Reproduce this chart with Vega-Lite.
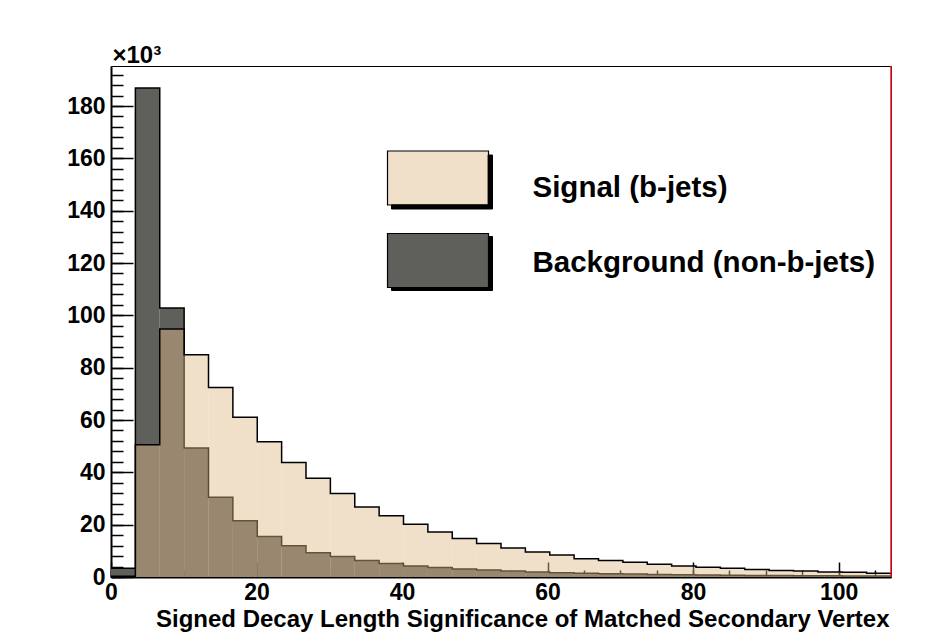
{
  "$schema": "https://vega.github.io/schema/vega-lite/v6.json",
  "width": 780,
  "height": 511,
  "padding": {"left": 111, "top": 66, "right": 47, "bottom": 60},
  "autosize": {"type": "none"},
  "background": "white",
  "data": {"values": [
    {"series": "Background (non-b-jets)", "x0": 0, "x1": 3.35, "count": 3300},
    {"series": "Background (non-b-jets)", "x0": 3.35, "x1": 6.7, "count": 186900},
    {"series": "Background (non-b-jets)", "x0": 6.7, "x1": 10.05, "count": 102800},
    {"series": "Background (non-b-jets)", "x0": 10.05, "x1": 13.4, "count": 49300},
    {"series": "Background (non-b-jets)", "x0": 13.4, "x1": 16.75, "count": 30500},
    {"series": "Background (non-b-jets)", "x0": 16.75, "x1": 20.1, "count": 21500},
    {"series": "Background (non-b-jets)", "x0": 20.1, "x1": 23.45, "count": 15500},
    {"series": "Background (non-b-jets)", "x0": 23.45, "x1": 26.8, "count": 11900},
    {"series": "Background (non-b-jets)", "x0": 26.8, "x1": 30.15, "count": 9300},
    {"series": "Background (non-b-jets)", "x0": 30.15, "x1": 33.5, "count": 7800},
    {"series": "Background (non-b-jets)", "x0": 33.5, "x1": 36.85, "count": 6300},
    {"series": "Background (non-b-jets)", "x0": 36.85, "x1": 40.2, "count": 5200},
    {"series": "Background (non-b-jets)", "x0": 40.2, "x1": 43.55, "count": 4200},
    {"series": "Background (non-b-jets)", "x0": 43.55, "x1": 46.9, "count": 3600},
    {"series": "Background (non-b-jets)", "x0": 46.9, "x1": 50.25, "count": 3100},
    {"series": "Background (non-b-jets)", "x0": 50.25, "x1": 53.6, "count": 2700},
    {"series": "Background (non-b-jets)", "x0": 53.6, "x1": 56.95, "count": 2300},
    {"series": "Background (non-b-jets)", "x0": 56.95, "x1": 60.3, "count": 1900},
    {"series": "Background (non-b-jets)", "x0": 60.3, "x1": 63.65, "count": 1600},
    {"series": "Background (non-b-jets)", "x0": 63.65, "x1": 67, "count": 1400},
    {"series": "Background (non-b-jets)", "x0": 67, "x1": 70.35, "count": 1200},
    {"series": "Background (non-b-jets)", "x0": 70.35, "x1": 73.7, "count": 1100},
    {"series": "Background (non-b-jets)", "x0": 73.7, "x1": 77.05, "count": 1000},
    {"series": "Background (non-b-jets)", "x0": 77.05, "x1": 80.4, "count": 900},
    {"series": "Background (non-b-jets)", "x0": 80.4, "x1": 83.75, "count": 800},
    {"series": "Background (non-b-jets)", "x0": 83.75, "x1": 87.1, "count": 700},
    {"series": "Background (non-b-jets)", "x0": 87.1, "x1": 90.45, "count": 600},
    {"series": "Background (non-b-jets)", "x0": 90.45, "x1": 93.8, "count": 550},
    {"series": "Background (non-b-jets)", "x0": 93.8, "x1": 97.15, "count": 500},
    {"series": "Background (non-b-jets)", "x0": 97.15, "x1": 100.5, "count": 450},
    {"series": "Background (non-b-jets)", "x0": 100.5, "x1": 103.85, "count": 400},
    {"series": "Background (non-b-jets)", "x0": 103.85, "x1": 107.2, "count": 350},
    {"series": "Signal (b-jets)", "x0": 0, "x1": 3.35, "count": 300},
    {"series": "Signal (b-jets)", "x0": 3.35, "x1": 6.7, "count": 50500},
    {"series": "Signal (b-jets)", "x0": 6.7, "x1": 10.05, "count": 94800},
    {"series": "Signal (b-jets)", "x0": 10.05, "x1": 13.4, "count": 84900},
    {"series": "Signal (b-jets)", "x0": 13.4, "x1": 16.75, "count": 72400},
    {"series": "Signal (b-jets)", "x0": 16.75, "x1": 20.1, "count": 61100},
    {"series": "Signal (b-jets)", "x0": 20.1, "x1": 23.45, "count": 51700},
    {"series": "Signal (b-jets)", "x0": 23.45, "x1": 26.8, "count": 43800},
    {"series": "Signal (b-jets)", "x0": 26.8, "x1": 30.15, "count": 37700},
    {"series": "Signal (b-jets)", "x0": 30.15, "x1": 33.5, "count": 31900},
    {"series": "Signal (b-jets)", "x0": 33.5, "x1": 36.85, "count": 26800},
    {"series": "Signal (b-jets)", "x0": 36.85, "x1": 40.2, "count": 23400},
    {"series": "Signal (b-jets)", "x0": 40.2, "x1": 43.55, "count": 20200},
    {"series": "Signal (b-jets)", "x0": 43.55, "x1": 46.9, "count": 17200},
    {"series": "Signal (b-jets)", "x0": 46.9, "x1": 50.25, "count": 14700},
    {"series": "Signal (b-jets)", "x0": 50.25, "x1": 53.6, "count": 12800},
    {"series": "Signal (b-jets)", "x0": 53.6, "x1": 56.95, "count": 11100},
    {"series": "Signal (b-jets)", "x0": 56.95, "x1": 60.3, "count": 9600},
    {"series": "Signal (b-jets)", "x0": 60.3, "x1": 63.65, "count": 8400},
    {"series": "Signal (b-jets)", "x0": 63.65, "x1": 67, "count": 7000},
    {"series": "Signal (b-jets)", "x0": 67, "x1": 70.35, "count": 6300},
    {"series": "Signal (b-jets)", "x0": 70.35, "x1": 73.7, "count": 5600},
    {"series": "Signal (b-jets)", "x0": 73.7, "x1": 77.05, "count": 4900},
    {"series": "Signal (b-jets)", "x0": 77.05, "x1": 80.4, "count": 4200},
    {"series": "Signal (b-jets)", "x0": 80.4, "x1": 83.75, "count": 3700},
    {"series": "Signal (b-jets)", "x0": 83.75, "x1": 87.1, "count": 3300},
    {"series": "Signal (b-jets)", "x0": 87.1, "x1": 90.45, "count": 2900},
    {"series": "Signal (b-jets)", "x0": 90.45, "x1": 93.8, "count": 2500},
    {"series": "Signal (b-jets)", "x0": 93.8, "x1": 97.15, "count": 2300},
    {"series": "Signal (b-jets)", "x0": 97.15, "x1": 100.5, "count": 1900},
    {"series": "Signal (b-jets)", "x0": 100.5, "x1": 103.85, "count": 1800},
    {"series": "Signal (b-jets)", "x0": 103.85, "x1": 107.2, "count": 1400}
  ]},
  "resolve": {"axis": {"x": "independent", "y": "independent"}},
  "layer": [
    {
      "transform": [{"filter": "datum.series === 'Background (non-b-jets)'"}],
      "mark": {"type": "rect", "fillOpacity": 1, "strokeWidth": 0},
      "encoding": {
        "x": {"field": "x0", "type": "quantitative", "scale": {"domain": [0, 107.2], "nice": false, "zero": false},
          "axis": {"orient": "bottom", "values": [0, 20, 40, 60, 80, 100], "tickSize": -15, "tickWidth": 1.5, "tickColor": "black",
            "domain": true, "domainColor": "black", "domainWidth": 2, "grid": false,
            "labelFont": "Liberation Sans", "labelFontWeight": "bold", "labelFontSize": 23, "labelColor": "black",
            "labelPadding": 19, "labelFlush": false, "labelOverlap": false, "labelBaseline": "top",
            "title": "Signed Decay Length Significance of Matched Secondary Vertex",
            "titleFont": "Liberation Sans", "titleFontWeight": "bold", "titleFontSize": 24, "titleColor": "black",
            "titleX": 778, "titleY": 49, "titleAlign": "right", "titleBaseline": "alphabetic", "titleAnchor": "end"}},
        "x2": {"field": "x1"},
        "y": {"field": "count", "type": "quantitative", "stack": null, "scale": {"domain": [0, 195300], "nice": false},
          "axis": {"orient": "left", "values": [0, 20000, 40000, 60000, 80000, 100000, 120000, 140000, 160000, 180000],
            "tickSize": -22, "tickWidth": 1.5, "tickColor": "black", "grid": false,
            "domain": true, "domainColor": "black", "domainWidth": 2,
            "labelExpr": "format(datum.value / 1000, 'd')",
            "labelFont": "Liberation Sans", "labelFontWeight": "bold", "labelFontSize": 23, "labelColor": "black",
            "labelPadding": 28, "labelOverlap": false, "labelFlush": false, "labelBaseline": "middle",
            "title": "×10³", "titleFont": "Liberation Sans", "titleFontWeight": "bold", "titleFontSize": 24, "titleColor": "black",
            "titleAngle": 0, "titleX": 1, "titleY": -4, "titleAlign": "left", "titleBaseline": "alphabetic"}},
        "y2": {"datum": 0},
        "fill": {"field": "series", "type": "nominal", "sort": "descending",
          "scale": {"range": ["#e0bb88", "#5f605b"]},
          "legend": {"orient": "none", "legendX": 299, "legendY": 84, "title": null, "direction": "vertical",
            "symbolType": "M-1.87,-1H1.87V1H-1.87Z", "symbolSize": 2916, "symbolStrokeColor": "black", "symbolStrokeWidth": 1,
            "labelFont": "Liberation Sans", "labelFontWeight": "bold", "labelFontSize": 29.5, "labelColor": "black",
            "labelOffset": 66.5, "labelLimit": 0, "rowPadding": 22.5, "padding": 0, "zindex": 2,
            "encode": {
              "symbols": {"update": {"fillOpacity": {"signal": "datum.value === 'Signal (b-jets)' ? 0.45 : 1"}, "opacity": {"value": 1}, "stroke": {"value": "black"}, "strokeWidth": {"value": 1.2}}},
              "labels": {"update": {"dy": {"signal": "datum.value === 'Signal (b-jets)' ? 10 : 2"}}}
            }}}
      }
    },
    {
      "transform": [{"filter": "datum.series === 'Background (non-b-jets)'"}, {"fold": ["x0", "x1"], "as": ["edge", "xe"]}],
      "mark": {"type": "line", "strokeWidth": 1.5, "interpolate": "linear"},
      "encoding": {
        "x": {"field": "xe", "type": "quantitative",
          "axis": {"orient": "bottom", "values": [0, 5, 10, 15, 20, 25, 30, 35, 40, 45, 50, 55, 60, 65, 70, 75, 80, 85, 90, 95, 100, 105],
            "tickSize": -7, "tickWidth": 1.5, "tickColor": "black", "labels": false, "domain": false, "grid": false, "title": null}},
        "y": {"field": "count", "type": "quantitative",
          "axis": {"orient": "left", "values": [0, 4000, 8000, 12000, 16000, 20000, 24000, 28000, 32000, 36000, 40000, 44000, 48000, 52000, 56000, 60000, 64000, 68000, 72000, 76000, 80000, 84000, 88000, 92000, 96000, 100000, 104000, 108000, 112000, 116000, 120000, 124000, 128000, 132000, 136000, 140000, 144000, 148000, 152000, 156000, 160000, 164000, 168000, 172000, 176000, 180000, 184000, 188000, 192000],
            "tickSize": -12, "tickWidth": 1.5, "tickColor": "black", "labels": false, "domain": false, "grid": false, "title": null}},
        "stroke": {"field": "series", "type": "nominal", "sort": "descending",
          "scale": {"range": ["#000000", "#000000"]},
          "legend": {"orient": "none", "legendX": 303.5, "legendY": 88.5, "title": null, "direction": "vertical",
            "symbolType": "M1.703,-1H1.87V1H-1.87V0.8333H1.703Z", "symbolSize": 2916, "symbolStrokeColor": "black", "symbolStrokeWidth": 1,
            "symbolFillColor": "black", "labelExpr": "''",
            "labelFont": "Liberation Sans", "labelFontSize": 10,
            "labelOffset": 4, "labelLimit": 0, "rowPadding": 22.5, "padding": 0, "zindex": 1,
            "encode": {"symbols": {"update": {"fill": {"value": "black"}, "fillOpacity": {"value": 1}, "opacity": {"value": 1}}}}}}
      }
    },
    {
      "transform": [{"filter": "datum.series === 'Signal (b-jets)'"}],
      "mark": {"type": "rect", "fillOpacity": 0.45, "strokeWidth": 0},
      "encoding": {
        "x": {"field": "x0", "type": "quantitative", "axis": null},
        "x2": {"field": "x1"},
        "y": {"field": "count", "type": "quantitative", "stack": null, "axis": null},
        "y2": {"datum": 0},
        "fill": {"field": "series", "type": "nominal", "sort": "descending",
          "scale": {"range": ["#e0bb88", "#5f605b"]},
          "legend": {"orient": "none", "legendX": 299, "legendY": 84, "title": null, "direction": "vertical",
            "symbolType": "M-1.87,-1H1.87V1H-1.87Z", "symbolSize": 2916, "symbolStrokeColor": "black", "symbolStrokeWidth": 1,
            "labelFont": "Liberation Sans", "labelFontWeight": "bold", "labelFontSize": 29.5, "labelColor": "black",
            "labelOffset": 66.5, "labelLimit": 0, "rowPadding": 22.5, "padding": 0, "zindex": 2,
            "encode": {
              "symbols": {"update": {"fillOpacity": {"signal": "datum.value === 'Signal (b-jets)' ? 0.45 : 1"}, "opacity": {"value": 1}, "stroke": {"value": "black"}, "strokeWidth": {"value": 1.2}}},
              "labels": {"update": {"dy": {"signal": "datum.value === 'Signal (b-jets)' ? 10 : 2"}}}
            }}}
      }
    },
    {
      "transform": [{"filter": "datum.series === 'Signal (b-jets)'"}, {"fold": ["x0", "x1"], "as": ["edge", "xe"]}],
      "mark": {"type": "line", "strokeWidth": 1.5, "interpolate": "linear"},
      "encoding": {
        "x": {"field": "xe", "type": "quantitative", "axis": null},
        "y": {"field": "count", "type": "quantitative", "axis": null},
        "stroke": {"field": "series", "type": "nominal", "sort": "descending",
          "scale": {"range": ["#000000", "#000000"]},
          "legend": {"orient": "none", "legendX": 303.5, "legendY": 88.5, "title": null, "direction": "vertical",
            "symbolType": "M1.703,-1H1.87V1H-1.87V0.8333H1.703Z", "symbolSize": 2916, "symbolStrokeColor": "black", "symbolStrokeWidth": 1,
            "symbolFillColor": "black", "labelExpr": "''",
            "labelFont": "Liberation Sans", "labelFontSize": 10,
            "labelOffset": 4, "labelLimit": 0, "rowPadding": 22.5, "padding": 0, "zindex": 1,
            "encode": {"symbols": {"update": {"fill": {"value": "black"}, "fillOpacity": {"value": 1}, "opacity": {"value": 1}}}}}}
      }
    },
    {
      "data": {"values": [{"edge": "right"}]},
      "mark": {"type": "rule", "color": "#e8141c", "strokeWidth": 1.5},
      "encoding": {"x": {"datum": 107.2, "type": "quantitative", "axis": null}}
    }
  ],
  "config": {
    "view": {"stroke": "black", "strokeWidth": 1},
    "font": "Liberation Sans"
  }
}
